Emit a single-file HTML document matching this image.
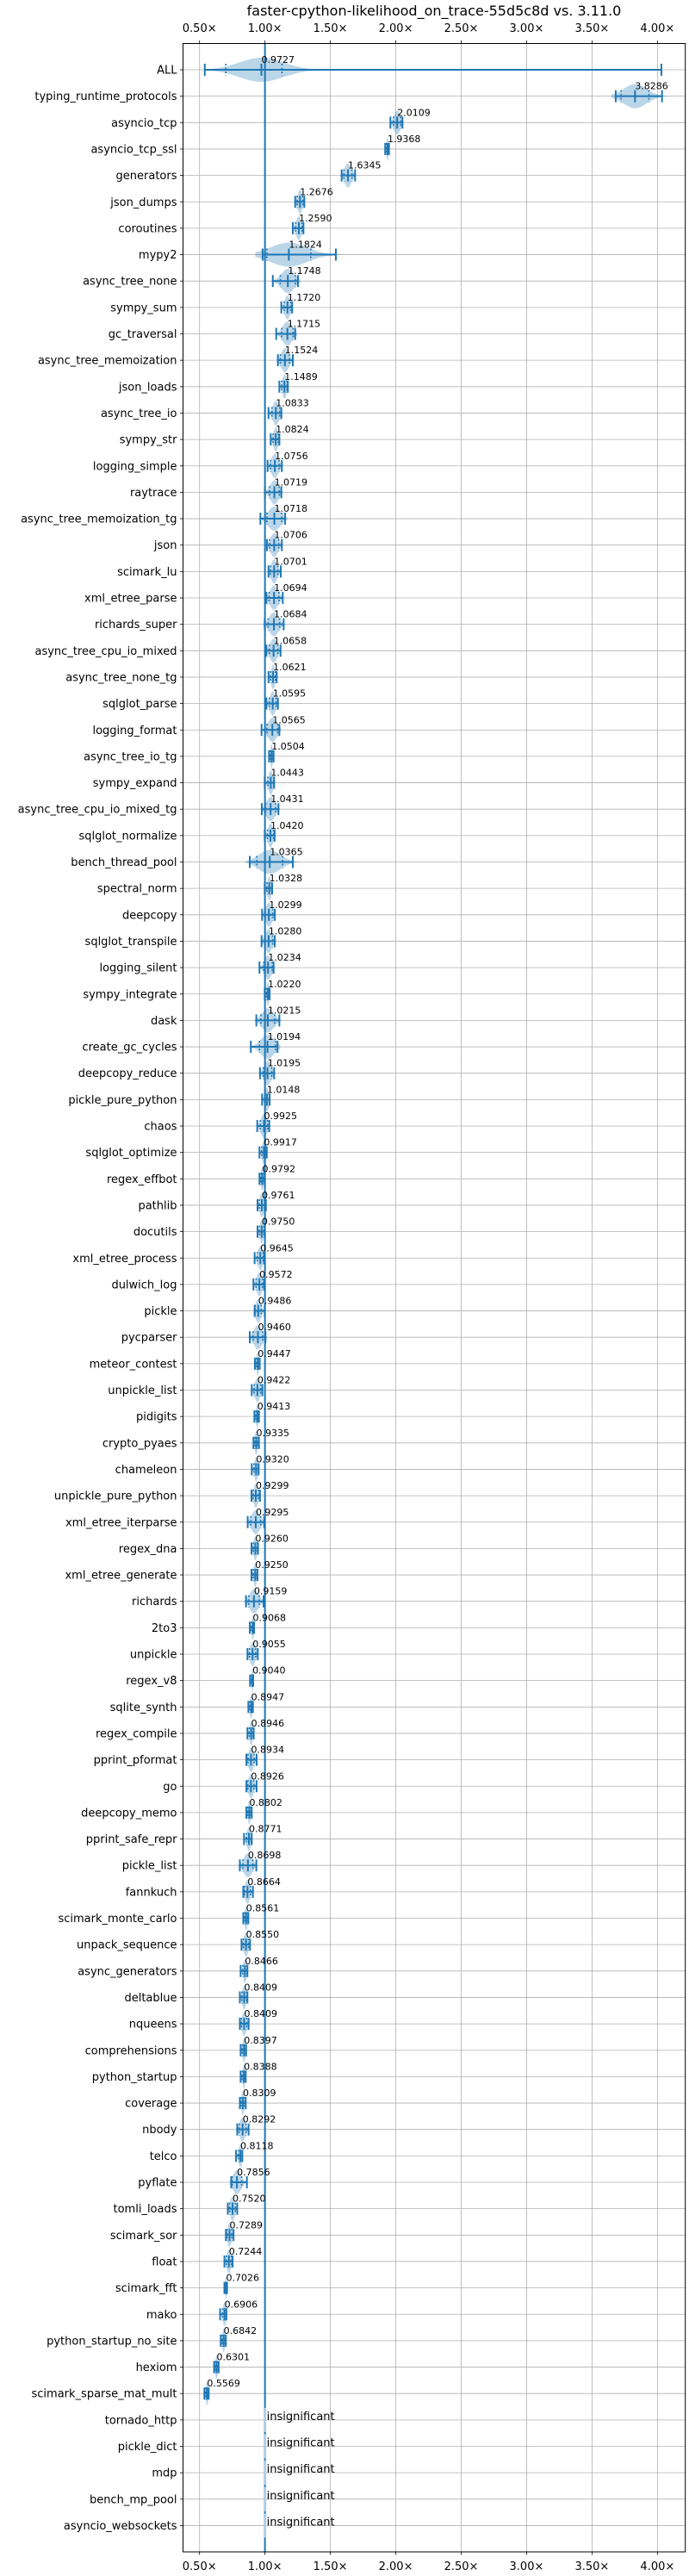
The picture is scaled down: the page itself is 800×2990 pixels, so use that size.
<!DOCTYPE html>
<html><head><meta charset="utf-8">
<style>
html,body{margin:0;padding:0;background:#fff;}
svg{display:block;font-family:"DejaVu Sans","Liberation Sans",sans-serif;}
</style></head>
<body>
<svg id="chart" width="800" height="2990" viewBox="0 0 800 2990" xmlns="http://www.w3.org/2000/svg">
<text x="504" y="18" font-size="16" text-anchor="middle" fill="#000">faster-cpython-likelihood_on_trace-55d5c8d vs. 3.11.0</text>
<g id="grid"></g><g id="marks"></g><g id="axes"></g>
</svg>
<script>
const names = ["ALL","typing_runtime_protocols","asyncio_tcp","asyncio_tcp_ssl","generators","json_dumps","coroutines","mypy2","async_tree_none","sympy_sum","gc_traversal","async_tree_memoization","json_loads","async_tree_io","sympy_str","logging_simple","raytrace","async_tree_memoization_tg","json","scimark_lu","xml_etree_parse","richards_super","async_tree_cpu_io_mixed","async_tree_none_tg","sqlglot_parse","logging_format","async_tree_io_tg","sympy_expand","async_tree_cpu_io_mixed_tg","sqlglot_normalize","bench_thread_pool","spectral_norm","deepcopy","sqlglot_transpile","logging_silent","sympy_integrate","dask","create_gc_cycles","deepcopy_reduce","pickle_pure_python","chaos","sqlglot_optimize","regex_effbot","pathlib","docutils","xml_etree_process","dulwich_log","pickle","pycparser","meteor_contest","unpickle_list","pidigits","crypto_pyaes","chameleon","unpickle_pure_python","xml_etree_iterparse","regex_dna","xml_etree_generate","richards","2to3","unpickle","regex_v8","sqlite_synth","regex_compile","pprint_pformat","go","deepcopy_memo","pprint_safe_repr","pickle_list","fannkuch","scimark_monte_carlo","unpack_sequence","async_generators","deltablue","nqueens","comprehensions","python_startup","coverage","nbody","telco","pyflate","tomli_loads","scimark_sor","float","scimark_fft","mako","python_startup_no_site","hexiom","scimark_sparse_mat_mult","tornado_http","pickle_dict","mdp","bench_mp_pool","asyncio_websockets"];
const means = [0.9727,3.8286,2.0109,1.9368,1.6345,1.2676,1.2590,1.1824,1.1748,1.1720,1.1715,1.1524,1.1489,1.0833,1.0824,1.0756,1.0719,1.0718,1.0706,1.0701,1.0694,1.0684,1.0658,1.0621,1.0595,1.0565,1.0504,1.0443,1.0431,1.0420,1.0365,1.0328,1.0299,1.0280,1.0234,1.0220,1.0215,1.0194,1.0195,1.0148,0.9925,0.9917,0.9792,0.9761,0.9750,0.9645,0.9572,0.9486,0.9460,0.9447,0.9422,0.9413,0.9335,0.9320,0.9299,0.9295,0.9260,0.9250,0.9159,0.9068,0.9055,0.9040,0.8947,0.8946,0.8934,0.8926,0.8802,0.8771,0.8698,0.8664,0.8561,0.8550,0.8466,0.8409,0.8409,0.8397,0.8388,0.8309,0.8292,0.8118,0.7856,0.7520,0.7289,0.7244,0.7026,0.6906,0.6842,0.6301,0.5569,null,null,null,null,null];
const mins = [0.54,3.681,1.959,1.919,1.586,1.231,1.213,0.982,1.06,1.125,1.086,1.099,1.110,1.027,1.044,1.020,1.0,0.965,1.015,1.027,1.011,0.998,1.011,1.027,1.011,0.974,1.031,0.998,0.976,0.998,0.884,0.998,0.978,0.974,0.958,0.998,0.934,0.892,0.962,0.978,0.941,0.958,0.958,0.943,0.943,0.921,0.912,0.921,0.884,0.923,0.899,0.919,0.912,0.899,0.897,0.868,0.897,0.897,0.855,0.884,0.866,0.886,0.873,0.866,0.858,0.858,0.858,0.840,0.808,0.834,0.834,0.821,0.814,0.808,0.808,0.814,0.814,0.808,0.788,0.779,0.742,0.716,0.701,0.690,0.690,0.657,0.662,0.611,0.537,1,1,1,1,1];
const maxs = [4.03,4.035,2.051,1.948,1.689,1.301,1.294,1.542,1.252,1.208,1.231,1.213,1.175,1.125,1.110,1.129,1.125,1.154,1.129,1.121,1.136,1.143,1.119,1.090,1.099,1.110,1.066,1.070,1.103,1.074,1.213,1.055,1.075,1.075,1.066,1.036,1.110,1.096,1.070,1.036,1.033,1.014,0.998,1.007,0.998,0.994,0.994,0.998,1.004,0.960,0.980,0.954,0.954,0.952,0.962,0.994,0.947,0.943,0.989,0.917,0.945,0.910,0.908,0.914,0.936,0.936,0.899,0.899,0.934,0.908,0.873,0.886,0.866,0.866,0.875,0.856,0.853,0.853,0.875,0.827,0.862,0.788,0.760,0.753,0.710,0.705,0.701,0.646,0.570,1,1,1,1,1];
const allQuartiles = [0.70,1.13];
const xTicks = [0.5,1.0,1.5,2.0,2.5,3.0,3.5,4.0];
const xTickLabels = ["0.50×","1.00×","1.50×","2.00×","2.50×","3.00×","3.50×","4.00×"];

const NS="http://www.w3.org/2000/svg";
const L=212.5,R=795.7,T=50.5,B=2962;
const xPerUnit=151.9;
function xs(v){return 231.7+(v-0.5)*xPerUnit;}
function ys(i){return 81+i*30.65;}
const BLUE="#1f77b4";
function mk(parent,tag,attrs){const e=document.createElementNS(NS,tag);for(const k in attrs)e.setAttribute(k,attrs[k]);parent.appendChild(e);return e;}
const grid=document.getElementById('grid'),marks=document.getElementById('marks'),axes=document.getElementById('axes');

xTicks.forEach((t,k)=>{
  const x=xs(t);
  const g=mk(grid,'line',{x1:x,x2:x,y1:T,y2:B,stroke:'#b0b0b0','stroke-width':0.8});
  
  
  mk(axes,'line',{x1:x,x2:x,y1:T,y2:T-3.5,stroke:'#000','stroke-width':0.8});
  mk(axes,'line',{x1:x,x2:x,y1:B,y2:B+3.5,stroke:'#000','stroke-width':0.8});
  const tt=mk(axes,'text',{x:x,y:37,'font-size':13,'text-anchor':'middle',fill:'#000'});
  tt.textContent=xTickLabels[k];
  
  
  const tb=mk(axes,'text',{x:x,y:2983,'font-size':13,'text-anchor':'middle',fill:'#000'});
  tb.textContent=xTickLabels[k];
  
  
});

names.forEach((n,i)=>{
  const y=ys(i);
  const g=mk(grid,'line',{x1:L,x2:R,y1:y,y2:y,stroke:'#b0b0b0','stroke-width':0.8});
  
  
  mk(axes,'line',{x1:L,x2:L-3.5,y1:y,y2:y,stroke:'#000','stroke-width':0.8});
  const lb=mk(axes,'text',{x:L-7,y:y+4.5,'font-size':13,'text-anchor':'end',fill:'#000'});
  lb.textContent=n;
  
  
});

const ref=mk(marks,'line',{x1:xs(1),x2:xs(1),y1:T,y2:B,stroke:BLUE,'stroke-width':2});



names.forEach((n,i)=>{
  const y=ys(i),m=means[i];
  const g=mk(marks,'g',{});
  
  
  if(m===null){
    mk(g,'line',{x1:xs(1),x2:xs(1),y1:y-14,y2:y+14,stroke:'#aecde6','stroke-width':3});
    const t=mk(g,'text',{x:xs(1)+2,y:y,'font-size':13,fill:'#000'});
    t.textContent='insignificant';
    
    
    return;
  }
  const lo=mins[i],hi=maxs[i],rng=Math.max(hi-lo,0.02);
  const sig=rng/4, a=lo-rng*0.1, b=hi+rng*0.1;
  let vlo=a,vhi=b;
  if(i===0){vlo=0.6;vhi=1.35;}
  const N=40,top=[],bot=[];
  for(let k=0;k<=N;k++){
    const v=vlo+(vhi-vlo)*k/N;
    const s=i===0?0.17:sig;
    const h=14*Math.exp(-0.5*Math.pow((v-m)/s,2));
    top.push(xs(v).toFixed(1)+','+(y-h).toFixed(1));
    bot.unshift(xs(v).toFixed(1)+','+(y+h).toFixed(1));
  }
  mk(g,'polygon',{points:top.concat(bot).join(' '),fill:BLUE,'fill-opacity':0.3,stroke:'none'});
  mk(g,'line',{x1:xs(lo),x2:xs(hi),y1:y,y2:y,stroke:BLUE,'stroke-width':2});
  [lo,hi,m].forEach(v=>mk(g,'line',{x1:xs(v),x2:xs(v),y1:y-7,y2:y+7,stroke:BLUE,'stroke-width':2}));
  const qs = i===0 ? allQuartiles : [m-rng*0.3,m+rng*0.3];
  qs.forEach(v=>mk(g,'line',{x1:xs(v),x2:xs(v),y1:y-7,y2:y+7,stroke:BLUE,'stroke-width':1.6,'stroke-dasharray':'2,2.5'}));
  const t=mk(g,'text',{x:xs(m),y:y-8,'font-size':11,fill:'#000'});
  t.textContent=m.toFixed(4);
  
  
});

const frame=mk(axes,'rect',{x:L,y:T,width:R-L,height:B-T,fill:'none',stroke:'#000','stroke-width':1});


</script>
</body></html>
